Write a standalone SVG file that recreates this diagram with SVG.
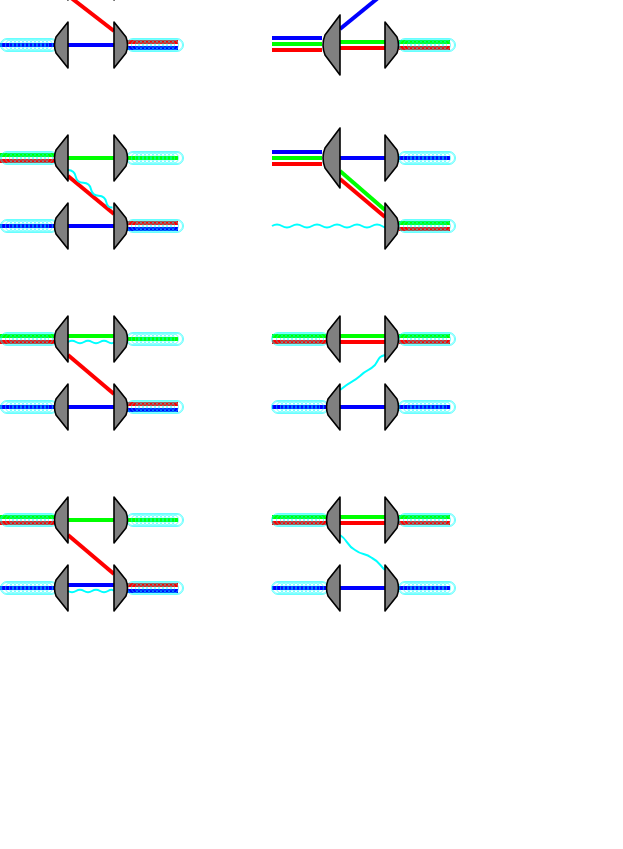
<svg xmlns="http://www.w3.org/2000/svg" width="623" height="849" viewBox="0 0 623 849">
<style>
.lens{fill:#808080;stroke:#000;stroke-width:1.6;stroke-linejoin:round}
.r{stroke:#ff0000;stroke-width:4;fill:none}
.g{stroke:#00ff00;stroke-width:4;fill:none}
.b{stroke:#0000ff;stroke-width:4;fill:none}
.w{stroke:#00ffff;stroke-width:2;fill:none}
.coil circle{fill:none;stroke:#00ffff;stroke-width:0.55}
</style>
<defs>
<g id="coil" class="coil"><circle cx="0" cy="0" r="5.5"/><circle cx="4" cy="0" r="5.5"/><circle cx="8" cy="0" r="5.5"/><circle cx="12" cy="0" r="5.5"/><circle cx="16" cy="0" r="5.5"/><circle cx="20" cy="0" r="5.5"/><circle cx="24" cy="0" r="5.5"/><circle cx="28" cy="0" r="5.5"/><circle cx="32" cy="0" r="5.5"/><circle cx="36" cy="0" r="5.5"/><circle cx="40" cy="0" r="5.5"/><circle cx="44" cy="0" r="5.5"/><rect x="-6.5" y="-6.5" width="57" height="13" rx="6.5" fill="none" stroke="#00ffff" stroke-width="0.6"/></g>
<path id="lL" class="lens" d="M0,-23 L0,23 L-12,8 Q-15,0 -12,-8 Z"/>
<path id="lR" class="lens" d="M0,-23 L0,23 L12,8 Q15,0 12,-8 Z"/>
<path id="lB" class="lens" d="M0,-30 L0,30 L-15,10 Q-19,0 -15,-10 Z"/>
<path id="wd" class="w" d="M0,0 q5,-4 10,0 t10,0 t10,0 t10,0 t10,0 t8,0"/>
</defs>
<g id="connectors">
<line class="b" x1="0" y1="45" x2="55" y2="45"/>
<line class="b" x1="68" y1="45" x2="114" y2="45"/>
<line class="r" x1="70" y1="-3" x2="114" y2="31"/>
<line class="r" x1="127" y1="42" x2="178" y2="42"/>
<line class="b" x1="127" y1="48" x2="178" y2="48"/>
<line class="g" x1="0" y1="155" x2="55" y2="155"/>
<line class="r" x1="0" y1="161" x2="55" y2="161"/>
<line class="g" x1="68" y1="158" x2="114" y2="158"/>
<line class="g" x1="127" y1="158" x2="178" y2="158"/>
<line class="r" x1="68" y1="176" x2="114" y2="214"/>
<use href="#wd" transform="translate(68,170) rotate(40)"/>
<line class="b" x1="0" y1="226" x2="55" y2="226"/>
<line class="b" x1="68" y1="226" x2="114" y2="226"/>
<line class="r" x1="127" y1="223" x2="178" y2="223"/>
<line class="b" x1="127" y1="229" x2="178" y2="229"/>
<line class="g" x1="0" y1="336" x2="55" y2="336"/>
<line class="r" x1="0" y1="342" x2="55" y2="342"/>
<line class="g" x1="68" y1="336" x2="114" y2="336"/>
<path class="w" d="M68,342 q4,-2.5 8,0 t8,0 t8,0 t8,0 t8,0 t6,0"/>
<line class="g" x1="127" y1="339" x2="178" y2="339"/>
<line class="r" x1="68" y1="355" x2="114" y2="394"/>
<line class="b" x1="0" y1="407" x2="55" y2="407"/>
<line class="b" x1="68" y1="407" x2="114" y2="407"/>
<line class="r" x1="127" y1="404" x2="178" y2="404"/>
<line class="b" x1="127" y1="410" x2="178" y2="410"/>
<line class="g" x1="0" y1="517" x2="55" y2="517"/>
<line class="r" x1="0" y1="523" x2="55" y2="523"/>
<line class="g" x1="68" y1="520" x2="114" y2="520"/>
<line class="g" x1="127" y1="520" x2="178" y2="520"/>
<line class="r" x1="68" y1="535" x2="114" y2="574"/>
<line class="b" x1="0" y1="588" x2="55" y2="588"/>
<line class="b" x1="68" y1="585" x2="114" y2="585"/>
<path class="w" d="M68,591 q4,2.5 8,0 t8,0 t8,0 t8,0 t8,0 t6,0"/>
<line class="r" x1="127" y1="585" x2="178" y2="585"/>
<line class="b" x1="127" y1="591" x2="178" y2="591"/>
<line class="b" x1="272" y1="38" x2="322" y2="38"/>
<line class="g" x1="272" y1="44" x2="322" y2="44"/>
<line class="r" x1="272" y1="50" x2="322" y2="50"/>
<line class="b" x1="340" y1="29" x2="378" y2="-2"/>
<line class="g" x1="340" y1="42" x2="385" y2="42"/>
<line class="r" x1="340" y1="48" x2="385" y2="48"/>
<line class="g" x1="399" y1="42" x2="450" y2="42"/>
<line class="r" x1="399" y1="48" x2="450" y2="48"/>
<line class="b" x1="272" y1="152" x2="322" y2="152"/>
<line class="g" x1="272" y1="158" x2="322" y2="158"/>
<line class="r" x1="272" y1="164" x2="322" y2="164"/>
<line class="b" x1="340" y1="158" x2="385" y2="158"/>
<line class="b" x1="399" y1="158" x2="450" y2="158"/>
<line class="g" x1="340" y1="171" x2="385" y2="210"/>
<line class="r" x1="340" y1="179" x2="385" y2="217"/>
<path class="w" d="M272,226 q5,-3 10,0 t10,0 t10,0 t10,0 t10,0 t10,0 t10,0 t10,0 t10,0 t10,0 t10,0 t3,0"/>
<line class="g" x1="399" y1="223" x2="450" y2="223"/>
<line class="r" x1="399" y1="229" x2="450" y2="229"/>
<line class="g" x1="272" y1="336" x2="326" y2="336"/>
<line class="r" x1="272" y1="342" x2="326" y2="342"/>
<line class="g" x1="340" y1="336" x2="385" y2="336"/>
<line class="r" x1="340" y1="342" x2="385" y2="342"/>
<line class="g" x1="399" y1="336" x2="450" y2="336"/>
<line class="r" x1="399" y1="342" x2="450" y2="342"/>
<path class="w" d="M340,390 C352,380 352,383 360,376 C368,368 368,372 375,365 C380,358 378,357 385,355"/>
<line class="b" x1="272" y1="407" x2="326" y2="407"/>
<line class="b" x1="340" y1="407" x2="385" y2="407"/>
<line class="b" x1="399" y1="407" x2="450" y2="407"/>
<line class="g" x1="272" y1="517" x2="326" y2="517"/>
<line class="r" x1="272" y1="523" x2="326" y2="523"/>
<line class="g" x1="340" y1="517" x2="385" y2="517"/>
<line class="r" x1="340" y1="523" x2="385" y2="523"/>
<line class="g" x1="399" y1="517" x2="450" y2="517"/>
<line class="r" x1="399" y1="523" x2="450" y2="523"/>
<path class="w" d="M340,535 C348,540 346,545 355,550 C363,556 364,552 372,558 C380,562 380,566 385,570"/>
<line class="b" x1="272" y1="588" x2="326" y2="588"/>
<line class="b" x1="340" y1="588" x2="385" y2="588"/>
<line class="b" x1="399" y1="588" x2="450" y2="588"/>
</g>
<g id="coils">
<use href="#coil" x="7" y="45"/><use href="#coil" x="133" y="45"/>
<use href="#coil" x="7" y="158"/><use href="#coil" x="133" y="158"/>
<use href="#coil" x="7" y="226"/><use href="#coil" x="133" y="226"/>
<use href="#coil" x="7" y="339"/><use href="#coil" x="133" y="339"/>
<use href="#coil" x="7" y="407"/><use href="#coil" x="133" y="407"/>
<use href="#coil" x="7" y="520"/><use href="#coil" x="133" y="520"/>
<use href="#coil" x="7" y="588"/><use href="#coil" x="133" y="588"/>
<use href="#coil" x="405" y="45"/>
<use href="#coil" x="405" y="158"/><use href="#coil" x="405" y="226"/>
<use href="#coil" x="278" y="339"/><use href="#coil" x="405" y="339"/>
<use href="#coil" x="278" y="407"/><use href="#coil" x="405" y="407"/>
<use href="#coil" x="278" y="520"/><use href="#coil" x="405" y="520"/>
<use href="#coil" x="278" y="588"/><use href="#coil" x="405" y="588"/>
</g>
<g id="lenses-left">
<use href="#lL" x="68" y="-23"/><use href="#lR" x="114" y="-23"/>
<use href="#lL" x="68" y="45"/><use href="#lR" x="114" y="45"/>
<use href="#lL" x="68" y="158"/><use href="#lR" x="114" y="158"/>
<use href="#lL" x="68" y="226"/><use href="#lR" x="114" y="226"/>
<use href="#lL" x="68" y="339"/><use href="#lR" x="114" y="339"/>
<use href="#lL" x="68" y="407"/><use href="#lR" x="114" y="407"/>
<use href="#lL" x="68" y="520"/><use href="#lR" x="114" y="520"/>
<use href="#lL" x="68" y="588"/><use href="#lR" x="114" y="588"/>
</g>
<g id="lenses-right">
<use href="#lB" x="340" y="45"/><use href="#lR" x="385" y="45"/>
<use href="#lB" x="340" y="158"/><use href="#lR" x="385" y="158"/>
<use href="#lR" x="385" y="226"/>
<use href="#lL" x="340" y="339"/><use href="#lR" x="385" y="339"/>
<use href="#lL" x="340" y="407"/><use href="#lR" x="385" y="407"/>
<use href="#lL" x="340" y="520"/><use href="#lR" x="385" y="520"/>
<use href="#lL" x="340" y="588"/><use href="#lR" x="385" y="588"/>
</g>
</svg>
